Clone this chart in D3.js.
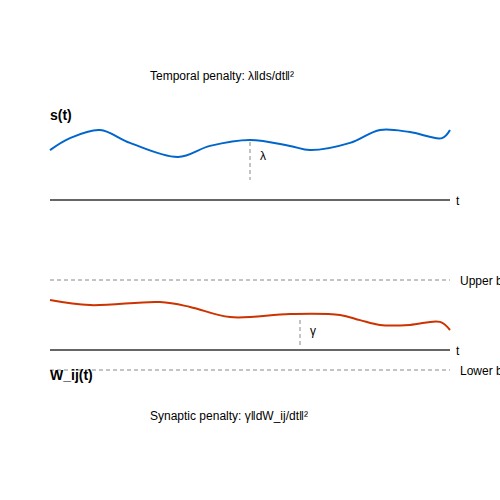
<!DOCTYPE html><html><head><script src="https://cdn.jsdelivr.net/npm/d3@7"></script>
<style>body{margin:0}</style></head><body><svg width="500" height="500"></svg><script>
const sT=[0,0.5,1.25,2,3.2,4,5,6,6.5,7.5,8.25,9,9.8,10];
const sVal=[0.33,0.73,1.0,0.57,0.1,0.47,0.67,0.47,0.33,0.57,1.0,0.93,0.73,1.0];
const wT=[0,1,2.75,3.5,4.5,6,7.25,7.75,8.25,9,9.75,10];
const wVal=[1.0,0.83,0.93,0.77,0.43,0.53,0.5,0.33,0.17,0.17,0.27,0.0];
const svg=d3.select("svg");
const x=d3.scaleLinear().domain([0,10]).range([50,450]);
const ys=d3.scaleLinear().domain([0,1]).range([160,130]);
const yw=d3.scaleLinear().domain([0,1]).range([330,300]);
const line=(T,y)=>d3.line().x((d,i)=>x(T[i])).y(d=>y(d)).curve(d3.curveCatmullRom);
svg.append("path").datum(sVal).attr("d",line(sT,ys)).attr("fill","none").attr("stroke","#0066cc").attr("stroke-width",2);
svg.append("path").datum(wVal).attr("d",line(wT,yw)).attr("fill","none").attr("stroke","#cc3300").attr("stroke-width",2);
const hl=(y,dash)=>svg.append("line").attr("x1",50).attr("x2",450).attr("y1",y).attr("y2",y).attr("stroke",dash?"#888":"#333").attr("stroke-width",dash?1:1.5).attr("stroke-dasharray",dash?"4,3":null);
hl(200);hl(350);hl(280,1);hl(370,1);
const vl=(xx,y1,y2)=>svg.append("line").attr("x1",xx).attr("x2",xx).attr("y1",y1).attr("y2",y2).attr("stroke","#888").attr("stroke-dasharray","4,3");
vl(250,142,180);vl(300,320,348);
const t=(xx,y,s,o={})=>svg.append("text").attr("x",xx).attr("y",y).text(s).attr("font-family","Liberation Sans, Arial, sans-serif").attr("font-size",o.size||12).attr("font-weight",o.bold?"bold":null);
t(150,80,"Temporal penalty: λ‖ds/dt‖²");
t(150,420,"Synaptic penalty: γ‖dW_ij/dt‖²");
t(50,120,"s(t)",{size:14,bold:1});
t(50,380,"W_ij(t)",{size:14,bold:1});
t(456,205,"t");t(456,355,"t");
t(260,160,"λ");t(310,335,"γ");
t(460,285,"Upper bound");t(460,375,"Lower bound");
</script></body></html>
